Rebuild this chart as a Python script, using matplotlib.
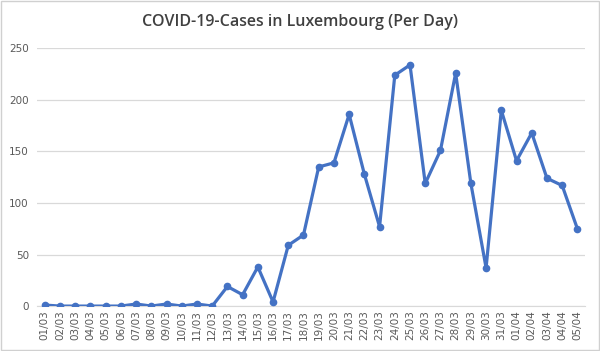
import matplotlib.pyplot as plt
from matplotlib.patches import Rectangle

dates = ['01/03', '02/03', '03/03', '04/03', '05/03', '06/03', '07/03', '08/03', '09/03',
         '10/03', '11/03', '12/03', '13/03', '14/03', '15/03', '16/03', '17/03', '18/03',
         '19/03', '20/03', '21/03', '22/03', '23/03', '24/03', '25/03', '26/03', '27/03',
         '28/03', '29/03', '30/03', '31/03', '01/04', '02/04', '03/04', '04/04', '05/04']
cases = [1, 0, 0, 0, 0, 0, 2, 0, 2, 0, 2, 0, 19, 11, 38, 4, 59, 69,
         135, 139, 186, 128, 77, 224, 234, 119, 151, 226, 119, 37, 190, 141, 168, 124, 117, 75]

fig = plt.figure(figsize=(6, 3.51), dpi=100)
ax = fig.add_axes([0.062, 0.128, 0.913, 0.734])

x = range(len(dates))
ax.plot(x, cases, color='#4472C4', linewidth=2.3, marker='o', markersize=4.5, zorder=3)

ax.set_xlim(-0.5, len(dates) - 0.5)
ax.set_ylim(0, 250)
ax.set_yticks([0, 50, 100, 150, 200, 250])
ax.set_xticks(list(x))
ax.set_xticklabels(dates, rotation=90)
ax.tick_params(axis='both', colors='#595959', labelsize=7.5, length=0)
ax.tick_params(axis='x', pad=3)
ax.tick_params(axis='y', pad=6)
ax.grid(axis='y', color='#D9D9D9', linewidth=0.9)
ax.set_axisbelow(True)
for s in ['top', 'right', 'left']:
    ax.spines[s].set_visible(False)
ax.spines['bottom'].set_color('#D9D9D9')

fig.text(0.5, 0.937, 'COVID-19-Cases in Luxembourg (Per Day)', ha='center', va='center',
         fontsize=11.5, color='#404040', family='Open Sans', weight='semibold')

fig.patches.append(Rectangle((0.002, 0.003), 0.996, 0.994, transform=fig.transFigure,
                             fill=False, edgecolor='#D0D0D0', linewidth=1))

plt.savefig('out.png', dpi=100)
